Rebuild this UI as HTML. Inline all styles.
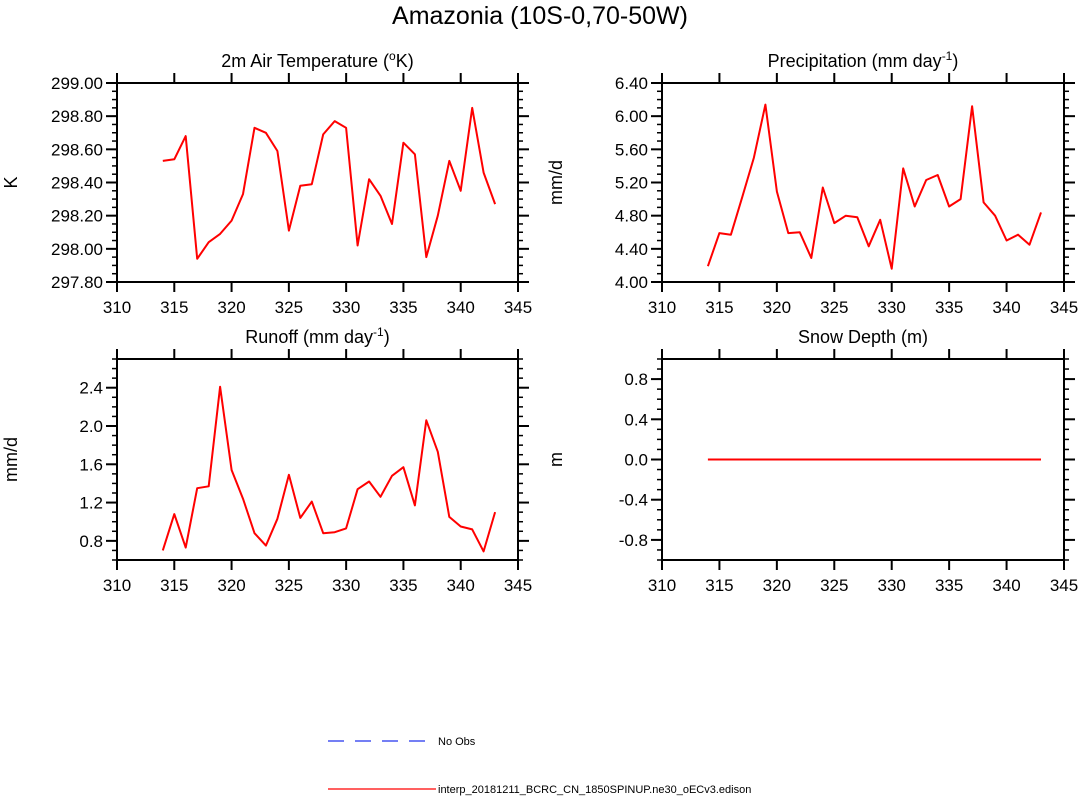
<!DOCTYPE html>
<html><head><meta charset="utf-8"><style>
body{margin:0;background:#fff;}
svg text{font-family:"Liberation Sans",Helvetica,sans-serif;fill:#000;}
</style></head><body>
<svg id="s" width="1080" height="796" xmlns="http://www.w3.org/2000/svg">
<text x="540" y="24" font-size="25" text-anchor="middle">Amazonia (10S-0,70-50W)</text>
<g id="panels"></g>
<g>
<line x1="328" y1="741" x2="436" y2="741" stroke="#2233ee" stroke-width="1.3" stroke-dasharray="16,11"/>
<text x="438" y="745" font-size="11">No Obs</text>
<line x1="328" y1="789" x2="436" y2="789" stroke="#ff0000" stroke-width="1.3"/>
<text x="438" y="793" font-size="11">interp_20181211_BCRC_CN_1850SPINUP.ne30_oECv3.edison</text>
</g>
</svg>
<script>
const years=[314,315,316,317,318,319,320,321,322,323,324,325,326,327,328,329,330,331,332,333,334,335,336,337,338,339,340,341,342,343];
const tempVals=[298.53,298.54,298.68,297.94,298.04,298.09,298.17,298.33,298.73,298.70,298.59,298.11,298.38,298.39,298.69,298.77,298.73,298.02,298.42,298.32,298.15,298.64,298.57,297.95,298.20,298.53,298.35,298.85,298.46,298.27];
const precVals=[4.19,4.59,4.57,5.03,5.50,6.14,5.09,4.59,4.60,4.29,5.14,4.71,4.80,4.78,4.43,4.75,4.16,5.37,4.91,5.23,5.29,4.91,5.00,6.12,4.96,4.80,4.50,4.57,4.45,4.84];
const runoffVals=[0.70,1.08,0.73,1.35,1.37,2.41,1.54,1.24,0.88,0.75,1.03,1.49,1.04,1.21,0.88,0.89,0.93,1.34,1.42,1.26,1.48,1.57,1.17,2.06,1.73,1.05,0.95,0.92,0.69,1.10];
const snowVals=[0,0,0,0,0,0,0,0,0,0,0,0,0,0,0,0,0,0,0,0,0,0,0,0,0,0,0,0,0,0];
const xTicks=[310,315,320,325,330,335,340,345];
const tempTicks=[297.8,298.0,298.2,298.4,298.6,298.8,299.0];
const precTicks=[4.0,4.4,4.8,5.2,5.6,6.0,6.4];
const runoffTicks=[0.8,1.2,1.6,2.0,2.4];
const snowTicks=[-0.8,-0.4,0.0,0.4,0.8];
const NS="http://www.w3.org/2000/svg";
const root=document.getElementById('panels');
function mk(tag,attrs,parent){const e=document.createElementNS(NS,tag);for(const k in attrs)e.setAttribute(k,attrs[k]);parent.appendChild(e);return e;}
const panels=[
 {name:'temperature',x0:117,x1:518,y0:83,y1:282,ymin:297.8,ymax:299.0,ticks:tempTicks,minor:0.05,dec:2,vals:tempVals,title:'2m Air Temperature (',sup:'o',tail:'K)',ylab:'K'},
 {name:'precipitation',x0:662,x1:1064,y0:83,y1:282,ymin:4.0,ymax:6.4,ticks:precTicks,minor:0.1,dec:2,vals:precVals,title:'Precipitation (mm day',sup:'-1',tail:')',ylab:'mm/d'},
 {name:'runoff',x0:117,x1:518,y0:359,y1:560,ymin:0.6,ymax:2.7,ticks:runoffTicks,minor:0.1,dec:1,vals:runoffVals,title:'Runoff (mm day',sup:'-1',tail:')',ylab:'mm/d'},
 {name:'snow-depth',x0:662,x1:1064,y0:359,y1:560,ymin:-1,ymax:1,ticks:snowTicks,minor:0.1,dec:1,vals:snowVals,title:'Snow Depth (m)',sup:'',tail:'',ylab:'m'}
];
panels.forEach(p=>{
 const g=mk('g',{},root);
 
 
 const X=v=>p.x0+(v-310)/(345-310)*(p.x1-p.x0);
 const Y=v=>p.y1-(v-p.ymin)/(p.ymax-p.ymin)*(p.y1-p.y0);
 const fr=mk('rect',{x:p.x0,y:p.y0,width:p.x1-p.x0,height:p.y1-p.y0,fill:'none',stroke:'#000','stroke-width':2},g);
 
 
 xTicks.forEach(t=>{const x=X(t);
  mk('line',{x1:x,x2:x,y1:p.y1,y2:p.y1+10,stroke:'#000','stroke-width':2},g);
  mk('line',{x1:x,x2:x,y1:p.y0,y2:p.y0-10,stroke:'#000','stroke-width':2},g);
  const tl=mk('text',{x:x,y:p.y1+31,'font-size':17,'text-anchor':'middle'},g);tl.textContent=t;
  
  
 });
 for(let v=p.ymin;v<=p.ymax+1e-9;v+=p.minor){const y=Y(v);
  mk('line',{x1:p.x0,x2:p.x0-5,y1:y,y2:y,stroke:'#000','stroke-width':1.5},g);
  mk('line',{x1:p.x1,x2:p.x1+5,y1:y,y2:y,stroke:'#000','stroke-width':1.5},g);}
 p.ticks.forEach(t=>{const y=Y(t);
  mk('line',{x1:p.x0,x2:p.x0-11,y1:y,y2:y,stroke:'#000','stroke-width':2},g);
  mk('line',{x1:p.x1,x2:p.x1+11,y1:y,y2:y,stroke:'#000','stroke-width':2},g);
  const tl=mk('text',{x:p.x0-14,y:y+6,'font-size':17,'text-anchor':'end'},g);tl.textContent=t.toFixed(p.dec);
  
  
 });
 const tt=mk('text',{x:(p.x0+p.x1)/2,y:p.y0-16,'font-size':18,'text-anchor':'middle'},g);
 
 
 tt.appendChild(document.createTextNode(p.title));
 if(p.sup){const s=mk('tspan',{'font-size':12,dy:-7},tt);s.textContent=p.sup;const r=mk('tspan',{dy:7},tt);r.textContent=p.tail;}
 const yl=mk('text',{transform:`translate(${p.x0-100},${(p.y0+p.y1)/2}) rotate(-90)`,'font-size':18,'text-anchor':'middle'},g);
 yl.textContent=p.ylab;
 
 
 const pts=years.map((yr,i)=>X(yr).toFixed(1)+','+Y(p.vals[i]).toFixed(1)).join(' ');
 const ln=mk('polyline',{points:pts,fill:'none',stroke:'#ff0000','stroke-width':2,'stroke-linejoin':'round'},g);
 
 
});
</script>
</body></html>
